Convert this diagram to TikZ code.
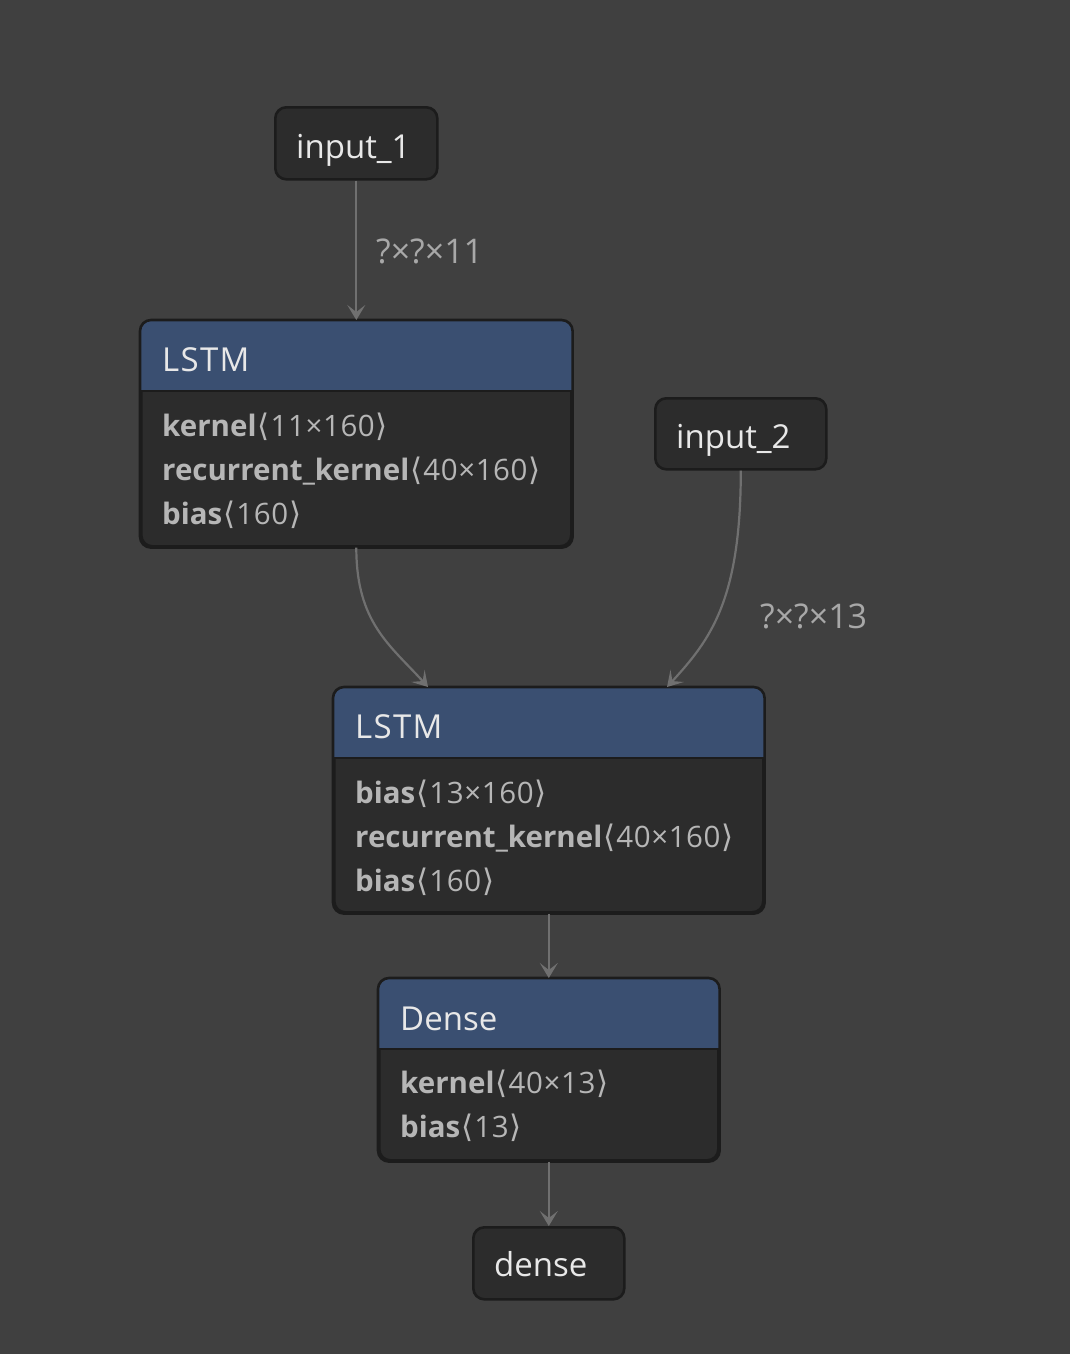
\documentclass[tikz,border=0pt]{standalone}
\usepackage{fontspec}
\setmainfont{Open Sans}
\newfontfamily\symfont{DejaVu Sans}
\usetikzlibrary{arrows.meta,calc}
\definecolor{bgc}{HTML}{404040}
\definecolor{nodefill}{HTML}{2C2C2C}
\definecolor{bordc}{HTML}{1C1C1C}
\definecolor{hdrc}{HTML}{3A4F71}
\definecolor{hdrtext}{HTML}{E8E8E8}
\definecolor{bodytext}{HTML}{B6B6B6}
\definecolor{edgec}{HTML}{707070}
\definecolor{labelc}{HTML}{A8A8A8}
\newcommand{\myla}{\kern1pt{\symfont\fontsize{31pt}{34pt}\selectfont\raisebox{-0.5pt}{⟨}}\kern1pt}
\newcommand{\myra}{\kern1pt{\symfont\fontsize{31pt}{34pt}\selectfont\raisebox{-0.5pt}{⟩}}}
\newcommand{\bodyline}[2]{\textbf{#1}\myla{\addfontfeature{LetterSpace=2}#2}\myra}
\tikzset{
  boxshape/.style={draw=bordc, line width=2.6pt, fill=nodefill, rounded corners=11pt, anchor=north west, inner sep=0pt},
  titletext/.style={anchor=base west, inner sep=0pt, text=hdrtext, font=\fontsize{33pt}{38pt}\selectfont},
  bodytxt/.style={anchor=base west, inner sep=0pt, text=bodytext, font=\fontsize{29.5pt}{34pt}\selectfont},
  edgelabel/.style={anchor=base west, inner sep=0pt, text=labelc, font=\fontsize{34pt}{38pt}\selectfont},
  conn/.style={draw=edgec, line width=2.2pt, -{Stealth[length=15pt,width=18pt,inset=7pt]}},
}
\newcommand{\header}[2]{% node name, separator y
  \begin{scope}
    \clip[rounded corners=11pt] (#1.north west) rectangle (#1.south east);
    \fill[hdrc] (#1.north west) rectangle (#1.east |- 0,#2);
  \end{scope}
  \draw[bordc, line width=2.6pt] (#1.west |- 0,#2) -- (#1.east |- 0,#2);
  \draw[bordc, line width=2.6pt, rounded corners=11pt] (#1.north west) rectangle (#1.south east);
}
\begin{document}
\begin{tikzpicture}[x=1pt,y=-1pt]
\fill[bgc] (0,0) rectangle (1070,1354);
\useasboundingbox (0,0) rectangle (1070,1354);

% input_1
\node[boxshape, minimum width=162pt, minimum height=72pt] (in1) at (274,106) {};
\node[titletext] (in1t) at (296,158) {input\_1};

% LSTM 1
\node[boxshape, minimum width=430pt, minimum height=225pt] (l1) at (140,320) {};
\header{l1}{391}
\node[titletext] (l1t) at (162,371) {\addfontfeature{LetterSpace=4}LSTM};
\node[bodytxt] (l1a) at (162,436) {\bodyline{kernel}{11×160}};
\node[bodytxt] (l1b) at (162,480) {\bodyline{recurrent\_kernel}{40×160}};
\node[bodytxt] (l1c) at (162,524) {\bodyline{bias}{160}};

% input_2
\node[boxshape, minimum width=171pt, minimum height=71pt] (in2) at (654,397) {};
\node[titletext] (in2t) at (676,448) {input\_2};

% LSTM 2
\node[boxshape, minimum width=429pt, minimum height=224pt] (l2) at (333,687) {};
\header{l2}{758}
\node[titletext] (l2t) at (355,738) {\addfontfeature{LetterSpace=4}LSTM};
\node[bodytxt] (l2a) at (355,803) {\bodyline{bias}{13×160}};
\node[bodytxt] (l2b) at (355,847) {\bodyline{recurrent\_kernel}{40×160}};
\node[bodytxt] (l2c) at (355,891) {\bodyline{bias}{160}};

% Dense
\node[boxshape, minimum width=339pt, minimum height=181pt] (d1) at (378,978) {};
\header{d1}{1049}
\node[titletext] (d1t) at (400,1030) {Dense};
\node[bodytxt] (d1a) at (400,1093) {\bodyline{kernel}{40×13}};
\node[bodytxt] (d1b) at (400,1137) {\bodyline{bias}{13}};

% dense output
\node[boxshape, minimum width=151pt, minimum height=72pt] (out) at (472,1226) {};
\node[titletext] (outt) at (494,1276) {dense};

% connectors
\coordinate (l2in1) at ($(l2.north west)+(95,0)$);
\coordinate (l2in2) at ($(l2.north west)+(334,0)$);
\draw[conn] (in1.south) -- (l1.north);
\draw[conn] (l1.south) .. controls ($(l1.south)+(0,75)$) and ($(l2in1)+(-38,-42)$) .. (l2in1);
\draw[conn] (in2.south) .. controls ($(in2.south)+(0,130)$) and ($(l2in2)+(43,-47)$) .. (l2in2);
\draw[conn] (l2.south) -- (d1.north);
\draw[conn] (d1.south) -- (out.north);

% edge labels
\node[edgelabel] (lab1) at (376,263) {?×?×11};
\node[edgelabel] (lab2) at (760,628) {?×?×13};
\end{tikzpicture}
\end{document}
